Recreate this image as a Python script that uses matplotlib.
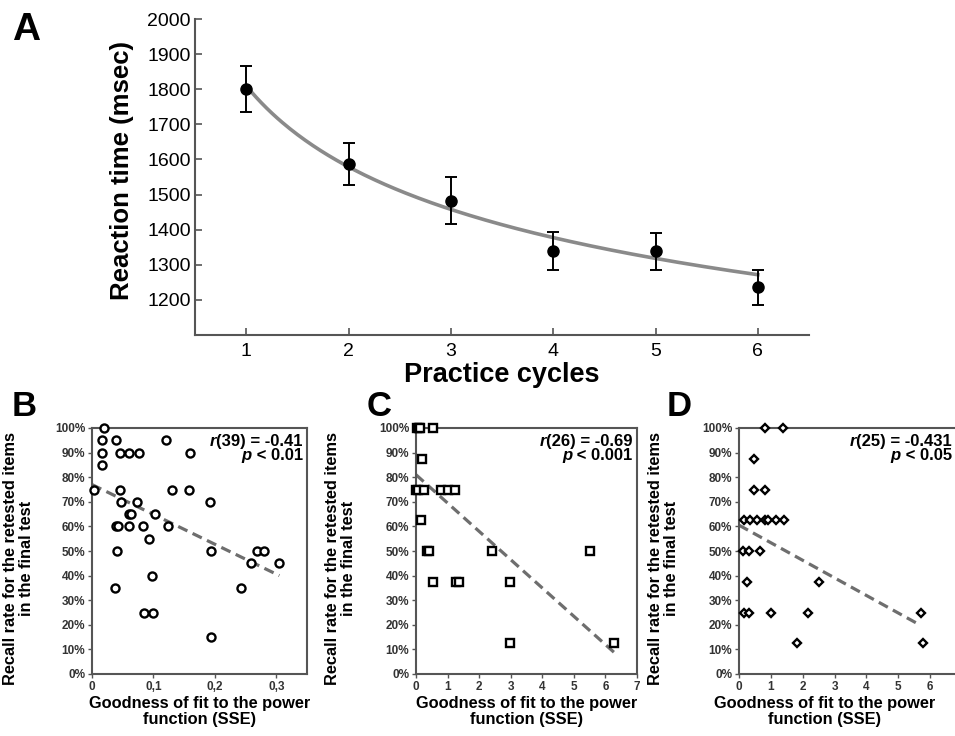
import numpy as np
import matplotlib.pyplot as plt
from matplotlib.ticker import PercentFormatter, FuncFormatter

plt.rcParams['font.family'] = ['Liberation Sans', 'DejaVu Sans']

# Panel A: reaction time over practice cycles
cycles = [1, 2, 3, 4, 5, 6]
rt_mean = [1800, 1586, 1483, 1340, 1338, 1236]
rt_err = [66, 60, 66, 54, 52, 50]
power_a, power_b = 1810, 0.197  # fitted power function RT = a * n^-b

# Panel B
sse_b = [0.020, 0.017, 0.039, 0.120, 0.017, 0.046, 0.061, 0.076, 0.160, 0.017,
         0.003, 0.046, 0.130, 0.158, 0.047, 0.074, 0.192, 0.060, 0.063, 0.103,
         0.039, 0.043, 0.061, 0.083, 0.124, 0.093, 0.041, 0.194, 0.269, 0.280,
         0.259, 0.305, 0.097, 0.037, 0.243, 0.085, 0.100, 0.193]
recall_b = [1.00, .95, .95, .95, .90, .90, .90, .90, .90, .85,
            .75, .75, .75, .75, .70, .70, .70, .65, .65, .65,
            .60, .60, .60, .60, .60, .55, .50, .50, .50, .50,
            .45, .45, .40, .35, .35, .25, .25, .15]
fit_b_x, fit_b_y = [0, 0.305], [0.77, 0.40]

# Panel C
sse_c = [0.02, 0.08, 0.14, 0.53, 0.18, 0.0, 0.06, 0.24, 0.79, 1.0, 1.22, 0.15,
         0.36, 0.41, 2.42, 5.5, 0.55, 1.28, 1.36, 2.97, 2.97, 6.28]
recall_c = [1, 1, 1, 1, .875, .75, .75, .75, .75, .75, .75, .625,
            .5, .5, .5, .5, .375, .375, .375, .375, .125, .125]
fit_c_x, fit_c_y = [0, 6.3], [0.81, 0.085]

# Panel D
sse_d = [0.81, 1.39, 0.47, 0.47, 0.83, 0.15, 0.36, 0.55, 0.81, 0.91, 1.16, 1.41,
         0.11, 0.32, 0.65, 0.25, 2.52, 0.15, 0.32, 1.02, 2.17, 5.71, 1.81, 5.77]
recall_d = [1, 1, .875, .75, .75, .625, .625, .625, .625, .625, .625, .625,
            .5, .5, .5, .375, .375, .25, .25, .25, .25, .25, .125, .125]
fit_d_x, fit_d_y = [0, 5.6], [0.605, 0.205]

spine_col = '#555555'
W, H = 955, 736

fig = plt.figure(figsize=(9.55, 7.36), dpi=100)


def px_axes(left, top, right, bottom):
    return fig.add_axes([left / W, 1 - bottom / H, (right - left) / W, (bottom - top) / H])


# ---- A ----
ax = px_axes(195, 19, 809, 335)
xs = np.linspace(1, 6, 200)
ax.plot(xs, power_a * xs ** (-power_b), color='#8a8a8a', lw=2.6, zorder=1)
ax.errorbar(cycles, rt_mean, yerr=rt_err, fmt='o', color='black', ms=8,
            capsize=4.5, elinewidth=1.4, capthick=1.4, zorder=3)
ax.set_xlim(0.5, 6.5)
ax.set_ylim(1100, 2000)
ax.set_xticks(cycles)
ax.set_yticks(range(1200, 2001, 100))
for s in ['top', 'right']:
    ax.spines[s].set_visible(False)
for s in ['left', 'bottom']:
    ax.spines[s].set_color(spine_col)
    ax.spines[s].set_linewidth(1.5)
ax.tick_params(direction='in', length=5, width=1.2, color=spine_col, labelsize=14, pad=3)
ax.tick_params(axis='x', pad=6)
ax.set_ylabel('Reaction time (msec)', fontsize=18.5, fontweight='bold')
ax.yaxis.set_label_coords(-0.1, 0.52)
ax.set_xlabel('Practice cycles', fontsize=19.5, fontweight='bold')
ax.xaxis.set_label_coords(0.5, -0.085)
fig.text(12 / W, 1 - 40 / H, 'A', fontsize=28, fontweight='bold', va='baseline')


def scatter_panel(box, x, y, marker, ms, fx, fy, xlim, xticks, fmt, rtxt, ptxt, ann_x, xlab_x):
    ax = px_axes(*box)
    ax.plot(fx, fy, ls=(0, (3.2, 1.8)), color='#6e6e6e', lw=2.3, zorder=2)
    ax.plot(x, y, ls='none', marker=marker, ms=ms, mfc='white', mec='black', mew=1.7,
            clip_on=False, zorder=3)
    ax.set_xlim(*xlim)
    ax.set_ylim(0, 1)
    ax.set_xticks(xticks)
    ax.xaxis.set_major_formatter(FuncFormatter(fmt))
    ax.set_yticks(np.arange(0, 1.01, 0.1))
    ax.yaxis.set_major_formatter(PercentFormatter(1.0, decimals=0))
    for s in ax.spines.values():
        s.set_color(spine_col)
        s.set_linewidth(1.5)
    ax.tick_params(direction='out', length=3, width=1, color=spine_col, labelsize=8.5,
                   labelcolor='#333333', pad=2)
    for lab in ax.get_xticklabels() + ax.get_yticklabels():
        lab.set_fontweight('bold')
    ax.set_ylabel('Recall rate for the retested items\nin the final test', fontsize=11.8,
                  fontweight='bold', linespacing=1.1)
    ax.yaxis.set_label_coords(-0.27, 0.47)
    ax.set_xlabel('Goodness of fit to the power\nfunction (SSE)', fontsize=11.8,
                  fontweight='bold', linespacing=1.05)
    ax.xaxis.set_label_coords(xlab_x, -0.09)
    t = ax.text(ann_x, 0.947, rtxt, transform=ax.transAxes, ha='right', va='center',
                fontsize=12, fontweight='bold')
    ax.annotate('r', xy=(0, 0), xycoords=t, ha='right', va='bottom', fontsize=12,
                fontweight='bold', fontstyle='italic')
    t2 = ax.text(ann_x, 0.89, ' < ' + ptxt, transform=ax.transAxes, ha='right', va='center',
                 fontsize=12, fontweight='bold')
    ax.annotate('p', xy=(0, 0), xycoords=t2, ha='right', va='bottom', fontsize=12,
                fontweight='bold', fontstyle='italic')
    return ax


def dec_comma(v, pos):
    return '0' if v == 0 else f'{v:.1f}'.replace('.', ',')


def integer(v, pos):
    return f'{v:.0f}'


panels = [
    ('B', (92, 428, 307, 674), sse_b, recall_b, 'o', 5.8, fit_b_x, fit_b_y, (0, 0.35),
     [0, 0.1, 0.2, 0.3], dec_comma, '(39) = -0.41', '0.01', 12, 0.98, 0.5),
    ('C', (416, 428, 637, 674), sse_c, recall_c, 's', 5.8, fit_c_x, fit_c_y, (0, 7),
     range(0, 8), integer, '(26) = -0.69', '0.001', 367, 0.98, 0.5),
    ('D', (739, 428, 962, 674), sse_d, recall_d, 'D', 4.5, fit_d_x, fit_d_y, (0, 7),
     range(0, 7), integer, '(25) = -0.431', '0.05', 667, 0.955, 0.385),
]
for letter, box, x, y, m, ms, fx, fy, xlim, xt, fmt, rtxt, ptxt, lx, annx, xlx in panels:
    scatter_panel(box, x, y, m, ms, fx, fy, xlim, xt, fmt, rtxt, ptxt, annx, xlx)
    fig.text(lx / W, 1 - 416 / H, letter, fontsize=25, fontweight='bold', va='baseline')

fig.savefig('out.png', dpi=100)
